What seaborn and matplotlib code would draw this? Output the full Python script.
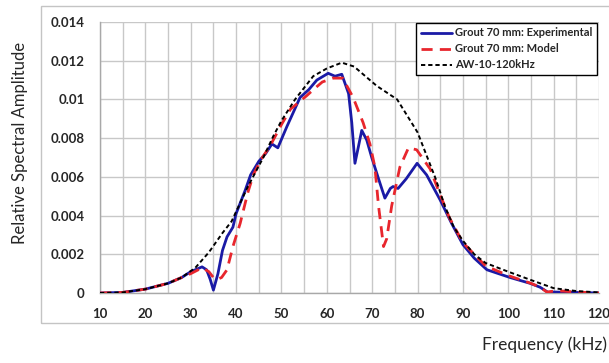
import matplotlib
matplotlib.use("Agg")
import matplotlib.pyplot as plt
import seaborn as sns
import pandas as pd
from matplotlib.patches import Rectangle

# Spectral amplitude curves (frequency in kHz)
exp_freq = [10, 15, 20, 25, 28, 30, 32.5, 33.5, 34.3, 35, 36, 37, 38, 39.3, 40, 42, 43.2,
            45, 46.5, 47.9, 49.2, 51.2, 54.1, 56, 57.8, 60.3, 61.8, 63.3, 64.8, 65.5,
            66.2, 67, 67.7, 68.8, 69.9, 71.4, 72.8, 74, 74.6, 75.7, 77.5, 79.9, 82,
            85, 87.5, 90, 92.5, 95.3, 100.4, 104.8, 107, 108.8, 110, 115, 120]
exp_amp = [0, 0.00003, 0.0002, 0.0005, 0.0008, 0.0011, 0.00135, 0.0012, 0.0007, 0.00015,
           0.0010, 0.0022, 0.0029, 0.0034, 0.0041, 0.0053, 0.0061, 0.0068, 0.0072, 0.0077,
           0.0075, 0.0086, 0.0101, 0.0105, 0.0110, 0.01135, 0.0112, 0.0113, 0.0103,
           0.0088, 0.0067, 0.0076, 0.0084, 0.0079, 0.0070, 0.0059, 0.0049, 0.0054, 0.0055,
           0.0054, 0.0059, 0.0067, 0.0061, 0.0048, 0.0036, 0.0025, 0.0018, 0.0012, 0.0008,
           0.0005, 0.0003, 0.00003, 0.00005, 0.00003, 0]

mod_freq = [10, 15, 20, 25, 28, 30, 32.5, 34, 35, 35.8, 36.8, 38, 39.3, 40.9, 42.6, 43.8,
            45.5, 47.5, 50, 52, 55.6, 57, 59, 61.4, 63.5, 65.8, 68, 69.5, 70.6, 71.4,
            72.5, 73.2, 74.3, 76.1, 78, 79.8, 82.8, 84.6, 87, 90, 95, 100, 105, 107,
            108.5, 110, 112, 115, 120]
mod_amp = [0, 0.00003, 0.0002, 0.0005, 0.0008, 0.0010, 0.0013, 0.0011, 0.0008, 0.0007,
           0.0008, 0.0012, 0.0024, 0.0036, 0.0052, 0.0061, 0.0069, 0.0076, 0.0087, 0.0095,
           0.0102, 0.0105, 0.0109, 0.0111, 0.0111, 0.0101, 0.0088, 0.0077, 0.0065, 0.0045,
           0.0024, 0.0028, 0.0045, 0.0065, 0.0075, 0.0074, 0.0064, 0.0053, 0.0039, 0.0026,
           0.0014, 0.0009, 0.0005, 0.0003, 0.00005, 0.0001, 0.0001, 0.00005, 0]

aw_freq = [10, 15, 20, 25, 28, 31, 34, 37, 39, 42.6, 46, 48.2, 50, 53, 57, 60, 63.3, 66,
           71, 75.5, 80, 84, 86, 88, 90, 92.5, 95, 100, 105, 110, 115, 120]
aw_amp = [0, 0.00003, 0.0002, 0.0005, 0.0008, 0.0013, 0.0021, 0.0031, 0.0037, 0.0055,
          0.0070, 0.0081, 0.0089, 0.0100, 0.0112, 0.0116, 0.0119, 0.0117, 0.0107, 0.0100,
          0.0083, 0.0059, 0.0045, 0.0034, 0.0027, 0.0020, 0.00155, 0.0011, 0.00067,
          0.00025, 0.0001, 0.00003]

labels = ["Grout 70 mm: Experimental", "Grout 70 mm: Model", "AW-10-120kHz"]
x_ticks = [10, 20, 30, 40, 50, 60, 70, 80, 90, 100, 110, 120]
y_ticks = [0, 0.002, 0.004, 0.006, 0.008, 0.01, 0.012, 0.014]
y_tick_labels = ["0", "0.002", "0.004", "0.006", "0.008", "0.01", "0.012", "0.014"]

sns.set_style("white")
plt.rcParams["font.family"] = ["Lato", "DejaVu Sans"]

W, H = 609, 363
fig = plt.figure(figsize=(W / 100, H / 100), dpi=100)
ax = fig.add_axes([100 / W, 1 - 293 / H, 499 / W, 271 / H])

# Outer chart border
fig.patches.append(Rectangle((41 / W, 1 - 323 / H), (W + 5 - 41) / W, (323 - 6) / H,
                             transform=fig.transFigure, fill=False,
                             edgecolor="#c4c4c4", linewidth=1.0, zorder=0))

df_exp = pd.DataFrame({"f": exp_freq, "a": exp_amp})
df_mod = pd.DataFrame({"f": mod_freq, "a": mod_amp})
df_aw = pd.DataFrame({"f": aw_freq, "a": aw_amp})

sns.lineplot(data=df_exp, x="f", y="a", ax=ax, color="#1a1aa6", linewidth=2.0,
             label=labels[0], zorder=3, sort=False)
sns.lineplot(data=df_mod, x="f", y="a", ax=ax, color="#e8262d", linewidth=2.0,
             label=labels[1], zorder=4, sort=False, dashes=False)
ax.lines[-1].set_dashes([4, 2.6])
sns.lineplot(data=df_aw, x="f", y="a", ax=ax, color="black", linewidth=1.4,
             label=labels[2], zorder=5, sort=False)
ax.lines[-1].set_dashes([2.2, 1.5])

ax.set_xlim(10, 120)
ax.set_ylim(0, 0.014)
ax.set_xticks(x_ticks)
ax.set_xticks(list(range(15, 120, 10)), minor=True)
ax.set_yticks(y_ticks)
ax.set_yticklabels(y_tick_labels)
ax.grid(True, which="both", color="#c8c8c8", linewidth=1.0)
ax.set_axisbelow(True)

for side in ["top", "right"]:
    ax.spines[side].set_visible(False)
for side in ["left", "bottom"]:
    ax.spines[side].set_color("#a8a8a8")
    ax.spines[side].set_linewidth(1.0)

ax.tick_params(axis="both", which="major", direction="out", length=4, width=1,
               color="#a8a8a8", labelsize=9.5, labelcolor="#262626")
ax.tick_params(axis="x", which="major", pad=7)
ax.tick_params(axis="y", which="major", pad=7)
ax.tick_params(axis="x", which="minor", length=0)
for lab in ax.get_xticklabels() + ax.get_yticklabels():
    lab.set_fontweight("bold")

ax.set_xlabel("")
ax.set_ylabel("")
fig.text(20 / W, 1 - 143 / H, "Relative Spectral Amplitude", rotation=90,
         ha="center", va="center", fontsize=12, color="#262626")
fig.text(607 / W, 1 - 345 / H, "Frequency (kHz)", ha="right", va="center",
         fontsize=12.5, color="#262626")

leg = ax.legend(loc="upper right", bbox_to_anchor=(597 / W, 1 - 23 / H),
                bbox_transform=fig.transFigure, frameon=True, fancybox=False,
                framealpha=1, edgecolor="black", prop={"size": 8, "weight": "bold"},
                handlelength=2.8, handletextpad=0.3, borderpad=0.4,
                labelspacing=0.45, borderaxespad=0)
leg.get_frame().set_linewidth(1.0)

fig.savefig("out.png", dpi=100)
